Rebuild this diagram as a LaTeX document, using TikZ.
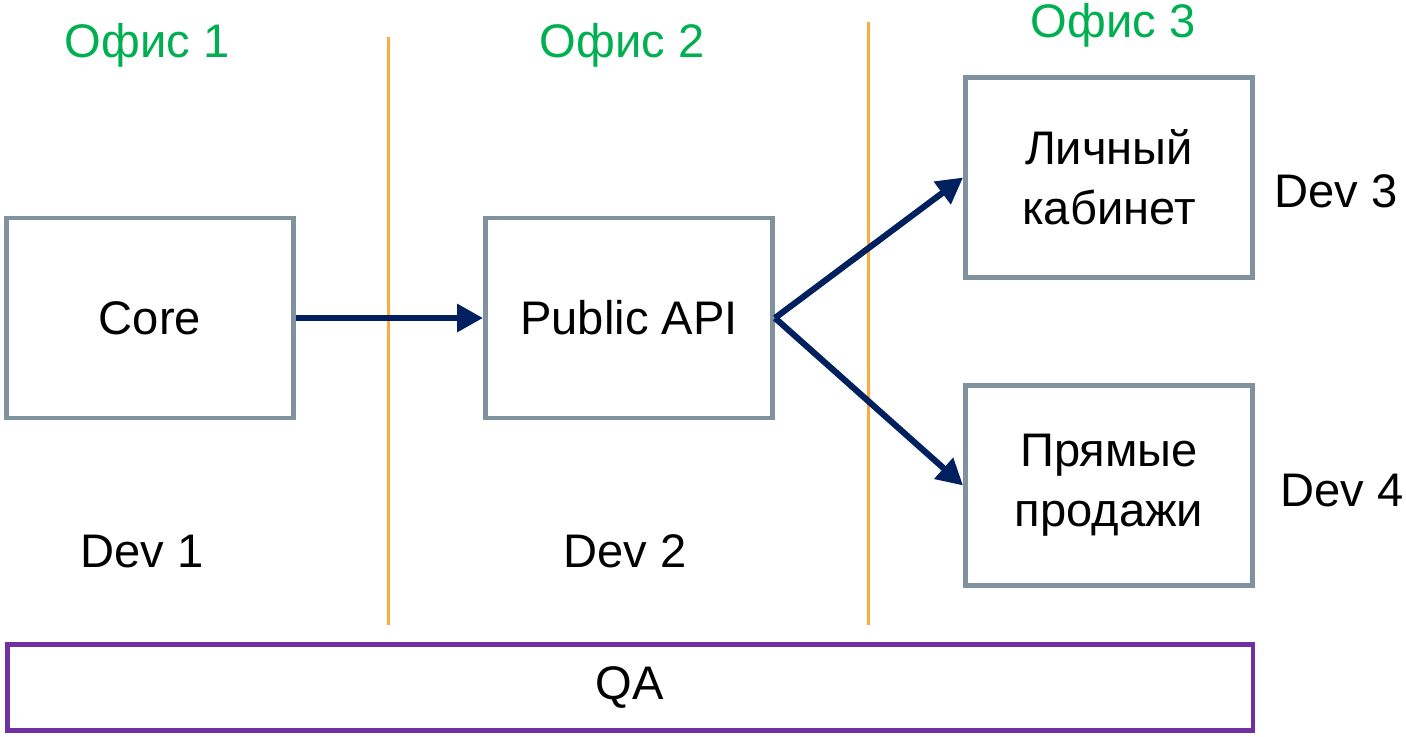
\documentclass[tikz,border=0pt]{standalone}
\usepackage{fontspec}
\setmainfont{Liberation Sans}
\usetikzlibrary{arrows.meta}

\definecolor{boxgray}{RGB}{127,146,158}
\definecolor{navy}{RGB}{0,32,96}
\definecolor{officegreen}{RGB}{0,176,80}
\definecolor{splitorange}{RGB}{255,170,64}
\definecolor{qapurple}{RGB}{112,48,160}

\begin{document}
\begin{tikzpicture}[
  x = 0.01cm, y = -0.01cm,
  every node/.style = {font = \fontsize{13.4pt}{17pt}\selectfont, inner sep = 0pt},
  service/.style = {rectangle, draw = boxgray, line width = 1.35pt, minimum width = 2.87cm, minimum height = 2.00cm, align = center},
  qa/.style = {rectangle, draw = qapurple, line width = 1.35pt, minimum width = 12.45cm, minimum height = 0.86cm},
  office/.style = {text = officegreen, anchor = base},
  dev/.style = {anchor = base},
  border/.style = {draw = splitorange, line width = 0.6pt},
  link/.style = {draw = navy, line width = 1.75pt, -{Triangle[length = 0.26cm, width = 0.27cm]}},
  ]
  \useasboundingbox (0,0) rectangle (1406,736);

  % offices
  \node[office] (office1) at (147,57) {Офис 1};
  \node[office] (office2) at (622,57) {Офис 2};
  \node[office] (office3) at (1113,37) {Офис 3};
  \draw[border] (388.5,37) -- (388.5,625);
  \draw[border] (868.5,22) -- (868.5,625);

  % services
  \node[service] (core) at (150,318) {Core};
  \node[service] (api) at (629,318) {Public API};
  \node[service] (cabinet) at (1109,177.5) {Личный\\кабинет};
  \node[service] (sales) at (1109,485.5) {Прямые\\продажи};

  % developers
  \node[dev] (dev1) at (142,567) {Dev 1};
  \node[dev] (dev2) at (625,567) {Dev 2};
  \node[dev] (dev3) at (1336,207) {Dev 3};
  \node[dev] (dev4) at (1342,506) {Dev 4};

  \node[qa] (qa) at (630,687.5) {QA};

  \draw[link] (core.east) -- (api.west);
  \draw[link] (api.east) -- (cabinet.west);
  \draw[link] (api.east) -- (sales.west);
\end{tikzpicture}
\end{document}
